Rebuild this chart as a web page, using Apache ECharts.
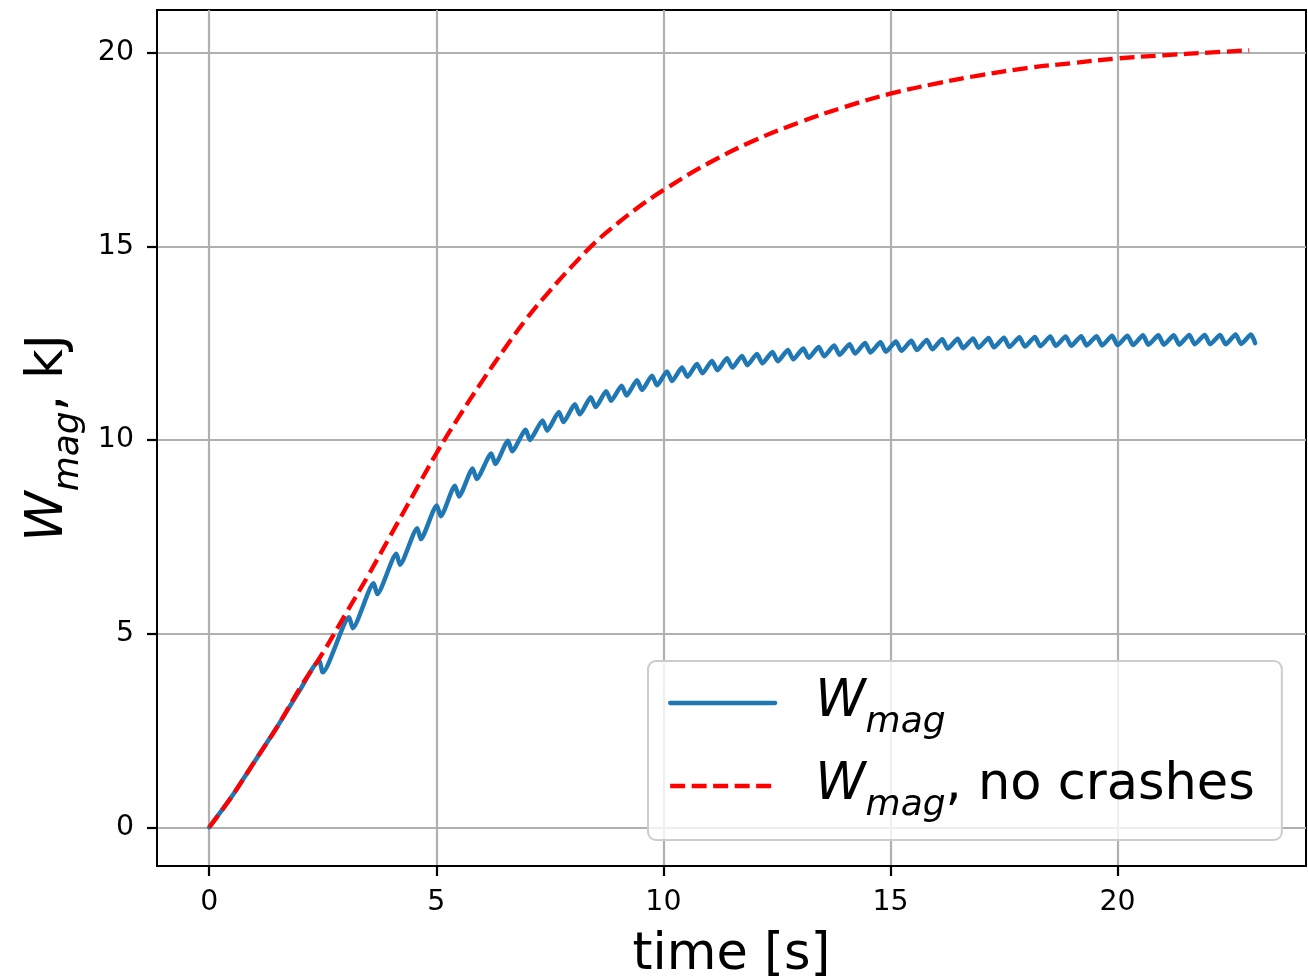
<!DOCTYPE html>
<html>
<head>
<meta charset="utf-8">
<script src="https://cdn.jsdelivr.net/npm/echarts@6/dist/echarts.min.js"></script>
<style>
html,body{margin:0;padding:0;background:#fff;}
#chart{width:1308px;height:980px;}
</style>
</head>
<body>
<div id="chart"></div>
<script>
// ---------- data ----------
const xTicks = [0, 5, 10, 15, 20];
const yTicks = [0, 5, 10, 15, 20];

// "no crashes" curve (red dashed)
const redT = [0,0.5,1,1.5,2,2.5,3,3.5,4,4.5,5,5.5,6,6.5,7,7.5,8,8.5,9,9.5,10,11,12,13,14,15,16,17,18,19,20,21,22,22.9];
const redV = [0,0.8,1.7,2.6,3.6,4.5,5.5,6.5,7.55,8.6,9.65,10.6,11.5,12.35,13.15,13.85,14.5,15.1,15.6,16.05,16.45,17.15,17.73,18.2,18.6,18.94,19.2,19.42,19.6,19.73,19.85,19.93,20.0,20.06];

// W_mag (blue) – smooth start before the first crash
const blueStartT = [0,0.5,1,1.5,2];
const blueStartV = [0,0.8,1.7,2.6,3.55];
// each crash: peak just before it, dip just after it
const crashT = [2.42,3.08,3.62,4.12,4.58,5.01,5.41,5.80,6.21,6.58,6.97,7.34,7.70,8.05,8.40,8.74,9.08,9.42,9.75,10.08,10.41,10.74,11.07,11.40,11.73,12.06,12.40,12.74,13.08,13.42,13.76,14.10,14.44,14.78,15.12,15.46,15.80,16.14,16.48,16.82,17.16,17.50,17.84,18.18,18.52,18.86,19.20,19.54,19.88,20.22,20.56,20.90,21.24,21.58,21.92,22.26,22.60,22.94];
const peakV = [4.30,5.42,6.30,7.06,7.72,8.31,8.82,9.26,9.65,9.98,10.26,10.50,10.72,10.92,11.10,11.26,11.40,11.54,11.66,11.77,11.87,11.96,12.04,12.11,12.17,12.22,12.27,12.32,12.36,12.40,12.44,12.47,12.50,12.52,12.54,12.56,12.58,12.60,12.61,12.62,12.63,12.64,12.65,12.66,12.67,12.67,12.68,12.68,12.69,12.69,12.70,12.70,12.70,12.71,12.71,12.71,12.72,12.72];
const dipT = [2.50,3.16,3.70,4.20,4.66,5.10,5.50,5.89,6.30,6.67,7.06,7.44,7.80,8.16,8.51,8.85,9.19,9.53,9.86,10.19,10.53,10.86,11.19,11.52,11.85,12.18,12.52,12.86,13.20,13.54,13.88,14.22,14.56,14.90,15.24,15.58,15.92,16.26,16.60,16.94,17.28,17.62,17.96,18.30,18.64,18.98,19.32,19.66,20.00,20.34,20.68,21.02,21.36,21.70,22.04,22.38,22.72,23.03];
const dipV = [4.00,5.14,6.02,6.78,7.44,8.03,8.54,8.99,9.38,9.71,10.00,10.24,10.46,10.66,10.85,11.01,11.15,11.29,11.41,11.52,11.63,11.72,11.80,11.87,11.93,11.98,12.03,12.08,12.12,12.16,12.20,12.23,12.26,12.28,12.30,12.32,12.34,12.36,12.37,12.38,12.39,12.40,12.41,12.42,12.43,12.43,12.44,12.44,12.45,12.45,12.46,12.46,12.46,12.47,12.47,12.47,12.48,12.50];

// ---------- build series data ----------
const redData = redT.map((t, i) => [t, redV[i]]);
const blueData = blueStartT.map((t, i) => [t, blueStartV[i]]);
crashT.forEach((t, i) => {
  blueData.push([t, peakV[i]]);
  blueData.push([dipT[i], dipV[i]]);
});

const FONT = 'DejaVu Sans';
const richMath = {
  w:   { fontFamily: FONT, fontStyle: 'italic', fontSize: 51, lineHeight: 51, color: '#000' },
  wl:  { fontFamily: FONT, fontStyle: 'italic', fontSize: 51, lineHeight: 51, padding: [0, 0, 0, 35], color: '#000' },
  s:   { fontFamily: FONT, fontStyle: 'italic', fontSize: 36, lineHeight: 36, padding: [40, 0, 0, 0], color: '#000' },
  n:   { fontFamily: FONT, fontSize: 51, lineHeight: 51, color: '#000' }
};

const chart = echarts.init(document.getElementById('chart'), null, { renderer: 'canvas' });
chart.setOption({
  animation: false,
  backgroundColor: '#ffffff',
  grid: { left: 157, right: 2, top: 10, bottom: 114, show: true, borderColor: '#000', borderWidth: 2,
          backgroundColor: 'transparent', outerBoundsMode: 'none', containLabel: false },
  xAxis: {
    type: 'value', min: -1.15, max: 24.15, splitNumber: 5,
    name: 'time [s]', nameLocation: 'middle', nameGap: 64,
    nameTextStyle: { fontFamily: FONT, fontSize: 51, color: '#000' },
    axisLine: { show: true, onZero: false, lineStyle: { color: '#000', width: 2 } },
    axisTick: { show: true, customValues: xTicks, length: 10, lineStyle: { color: '#000', width: 2.2 } },
    axisLabel: { customValues: xTicks, margin: 23, fontFamily: FONT, fontSize: 28.4, color: '#000' },
    splitLine: { show: true, lineStyle: { color: '#b0b0b0', width: 2.2 } }
  },
  yAxis: {
    type: 'value', min: -1.0, max: 21.1, splitNumber: 4,
    name: '{w|W}{s|mag}{n|, kJ}', nameLocation: 'middle', nameGap: 72, nameRotate: 90,
    nameTextStyle: { fontFamily: FONT, fontSize: 51, color: '#000', rich: richMath },
    axisLine: { show: true, onZero: false, lineStyle: { color: '#000', width: 2 } },
    axisTick: { show: true, customValues: yTicks, length: 10, lineStyle: { color: '#000', width: 2.2 } },
    axisLabel: { customValues: yTicks, margin: 23, fontFamily: FONT, fontSize: 28.4, color: '#000' },
    splitLine: { show: true, lineStyle: { color: '#b0b0b0', width: 2.2 } }
  },
  legend: {
    orient: 'vertical', left: 648, top: 661,
    padding: [4, 27, 16, 20], itemGap: 7, itemWidth: 105, itemHeight: 20,
    backgroundColor: 'rgba(255,255,255,0.8)', borderColor: '#cccccc', borderWidth: 2, borderRadius: 8,
    itemStyle: { color: 'transparent', borderWidth: 0, opacity: 0 },
    lineStyle: { width: 4.3 },
    textStyle: { fontFamily: FONT, fontSize: 51, color: '#000', rich: richMath },
    formatter: function (name) {
      if (name === 'Wmag') return '{wl|W}{s|mag}';
      return '{wl|W}{s|mag}{n|, no crashes}';
    },
    data: ['Wmag', 'Wmag, no crashes']
  },
  series: [
    {
      name: 'Wmag', type: 'line', data: blueData, symbol: 'none', smooth: 0.2,
      lineStyle: { color: '#1f77b4', width: 4.5, cap: 'round', join: 'round' },
      itemStyle: { color: '#1f77b4' }, z: 3
    },
    {
      name: 'Wmag, no crashes', type: 'line', data: redData, symbol: 'none', smooth: 0.4,
      lineStyle: { color: '#ff0000', width: 4.3, type: [15, 6.5] },
      itemStyle: { color: '#ff0000' }, z: 4
    }
  ]
});
</script>
</body>
</html>
